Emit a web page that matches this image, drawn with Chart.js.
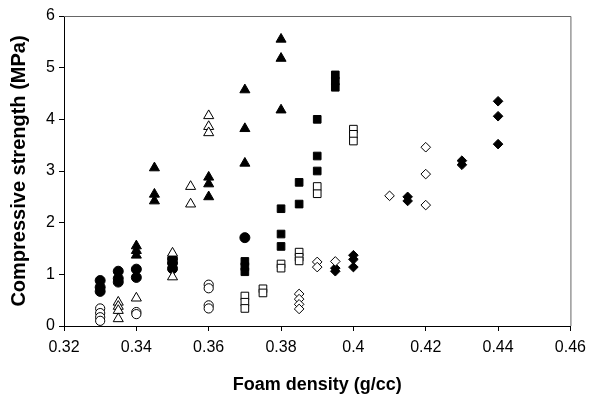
<!DOCTYPE html>
<html>
<head>
<meta charset="utf-8">
<script src="https://cdn.jsdelivr.net/npm/chart.js@4/dist/chart.umd.min.js"></script>
<style>
  body { margin: 0; background: #fff; }
  #wrap { width: 593px; height: 415px; }
</style>
</head>
<body>
<div id="wrap"><canvas id="myChart1" width="593" height="415"></canvas></div>
<script>
// data: [density g/cc, strength MPa]
const filledCircles = [[0.33,0.88],[0.33,0.75],[0.33,0.67],[0.335,1.06],[0.335,0.92],[0.335,0.85],
    [0.34,1.10],[0.34,0.94],[0.35,1.30],[0.35,1.22],[0.35,1.11],[0.37,1.71]]
const openCircles = [[0.33,0.34],[0.33,0.25],[0.33,0.17],[0.33,0.10],[0.34,0.27],[0.34,0.23],
    [0.36,0.80],[0.36,0.73],[0.36,0.40],[0.36,0.34]]
const filledTriangles = [[0.34,1.55],[0.34,1.46],[0.34,1.37],[0.345,3.06],[0.345,2.55],[0.345,2.42],
    [0.36,2.88],[0.36,2.75],[0.36,2.50],[0.37,4.57],[0.37,3.82],[0.37,3.15],[0.38,5.55],[0.38,5.18],[0.38,4.18]]
const openTriangles = [[0.335,0.46],[0.335,0.38],[0.335,0.30],[0.335,0.14],[0.34,0.54],[0.35,1.41],
    [0.35,0.95],[0.355,2.70],[0.355,2.36],[0.36,4.07],[0.36,3.86],[0.36,3.74]]
const filledSquares = [[0.37,1.25],[0.37,1.15],[0.37,1.05],[0.38,2.27],[0.38,1.78],[0.38,1.54],
    [0.385,2.78],[0.385,2.36],[0.39,4.00],[0.39,3.29],[0.39,3.00],[0.395,4.86],[0.395,4.74],[0.395,4.62]]
const openSquares = [[0.37,0.58],[0.37,0.46],[0.37,0.34],[0.375,0.72],[0.375,0.64],[0.38,1.20],[0.38,1.12],
    [0.385,1.43],[0.385,1.33],[0.385,1.26],[0.39,2.70],[0.39,2.56],[0.40,3.81],[0.40,3.71],[0.40,3.58]]
const filledDiamonds = [[0.395,1.12],[0.395,1.06],[0.40,1.37],[0.40,1.29],[0.40,1.14],[0.415,2.50],
    [0.415,2.42],[0.43,3.20],[0.43,3.12],[0.44,4.35],[0.44,4.06],[0.44,3.52]]
const openDiamonds = [[0.385,0.62],[0.385,0.52],[0.385,0.42],[0.385,0.33],[0.39,1.24],[0.39,1.14],
    [0.395,1.25],[0.41,2.52],[0.42,3.46],[0.42,2.94],[0.42,2.34]]

const xTicks = [0.32, 0.34, 0.36, 0.38, 0.4, 0.42, 0.44, 0.46]
const yTicks = [0, 1, 2, 3, 4, 5, 6]

const toPoints = (arr) => arr.map(p => ({x: p[0], y: p[1]}))

const makeSet = (label, arr, style, filled, radius) => ({
    label: label,
    data: toPoints(arr),
    pointStyle: style,
    pointRadius: radius,
    pointBackgroundColor: filled ? '#000' : '#fff',
    pointBorderColor: '#000',
    pointBorderWidth: 1,
    showLine: false
})

// frame around the plot area (top/right borders)
const frame = {
    id: 'frame',
    afterDraw(chart) {
        const {ctx, chartArea} = chart
        ctx.save()
        ctx.strokeStyle = '#666'
        ctx.lineWidth = 1
        ctx.beginPath()
        ctx.moveTo(chartArea.left, chartArea.top + 0.5)
        ctx.lineTo(chartArea.right + 0.5, chartArea.top + 0.5)
        ctx.lineTo(chartArea.right + 0.5, chartArea.bottom)
        ctx.stroke()
        ctx.restore()
    }
}

const font = '"Liberation Sans", Arial, sans-serif'

const config = {
    type: 'scatter',
    data: {
        datasets: [
            makeSet('open circles', openCircles, 'circle', false, 4.6),
            makeSet('open triangles', openTriangles, 'triangle', false, 5.8),
            makeSet('open squares', openSquares, 'rect', false, 5.4),
            makeSet('open diamonds', openDiamonds, 'rectRot', false, 4.8),
            makeSet('filled circles', filledCircles, 'circle', true, 5),
            makeSet('filled triangles', filledTriangles, 'triangle', true, 5.8),
            makeSet('filled squares', filledSquares, 'rect', true, 5.4),
            makeSet('filled diamonds', filledDiamonds, 'rectRot', true, 4.8)
        ]
    },
    options: {
        responsive: false,
        animation: false,
        layout: { padding: { left: 0, top: 16, right: 16, bottom: 0 } },
        plugins: { legend: { display: false }, tooltip: { enabled: false } },
        scales: {
            x: {
                type: 'linear',
                min: 0.32,
                max: 0.46,
                afterBuildTicks: (scale) => { scale.ticks = xTicks.map(v => ({value: v})) },
                afterFit: (scale) => { scale.height = 89 },
                grid: { drawOnChartArea: false, drawTicks: true, tickLength: 5, color: '#000' },
                border: { display: true, color: '#000', width: 1 },
                ticks: {
                    color: '#000', padding: 7,
                    font: { family: font, size: 16 },
                    callback: (v) => String(Math.round(v * 100) / 100)
                },
                title: {
                    display: true, text: 'Foam density (g/cc)', color: '#000',
                    font: { family: font, size: 18, weight: 'bold' },
                    padding: { top: 0, bottom: 19 }
                }
            },
            y: {
                min: 0,
                max: 6,
                afterBuildTicks: (scale) => { scale.ticks = yTicks.map(v => ({value: v})) },
                afterFit: (scale) => { scale.width = 64 },
                grid: { drawOnChartArea: false, drawTicks: true, tickLength: 5, color: '#000' },
                border: { display: true, color: '#000', width: 1 },
                ticks: {
                    color: '#000', padding: 4,
                    font: { family: font, size: 16 }
                },
                title: {
                    display: true, text: 'Compressive strength (MPa)', color: '#000',
                    font: { family: font, size: 20, weight: 'bold' },
                    padding: { top: 7, bottom: 0 }
                }
            }
        }
    },
    plugins: [frame]
}

const myChart = new Chart(document.getElementById('myChart1'), config)
</script>
</body>
</html>
